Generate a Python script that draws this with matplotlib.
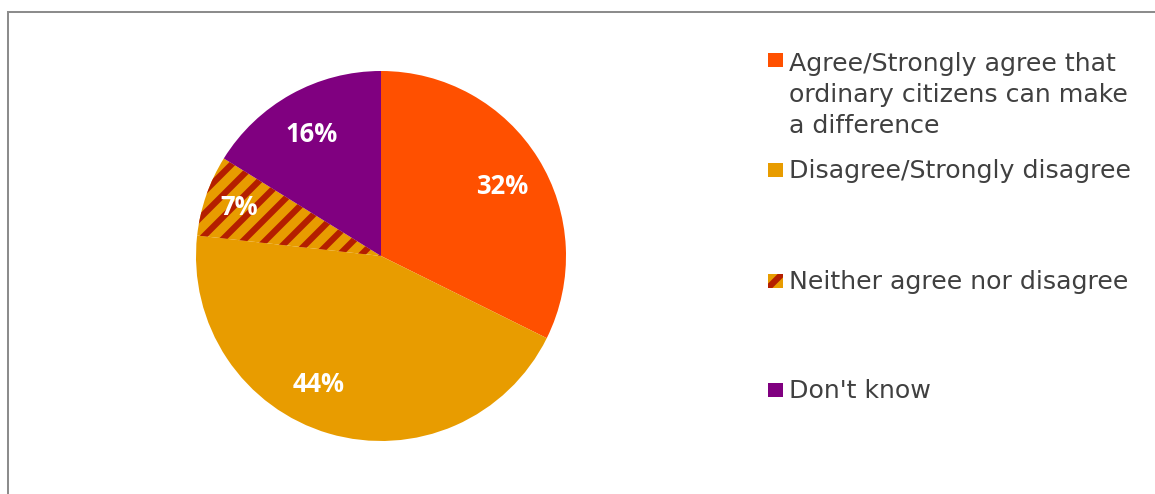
import numpy as np
import matplotlib.pyplot as plt
from matplotlib.patches import Rectangle
from matplotlib.lines import Line2D

labels = [
    "Agree/Strongly agree that\nordinary citizens can make\na difference",
    "Disagree/Strongly disagree",
    "Neither agree nor disagree",
    "Don't know",
]
shares = [32, 44, 7, 16]
colors = ["#FF5000", "#E89C00", "#E89C00", "#800080"]
hatches = [None, None, "//", None]
stripe_color = "#B41E00"
# value label placement: fraction of radius, angle nudge (deg, clockwise)
label_dist = [0.76, 0.755, 0.815, 0.77]
label_turn = [1, 10, 1, 0]

plt.rcParams["font.family"] = ["DejaVu Sans"]
plt.rcParams["hatch.linewidth"] = 3.4

W, H = 1155, 494
dpi = 132
fig = plt.figure(figsize=((W + 0.01) / dpi, (H + 0.01) / dpi), dpi=dpi)

# pie centred at (381, 256) px from top-left, radius 185 px
cx, cy, r = 381, 256, 185
ax = fig.add_axes([(cx - r) / W, (H - cy - r) / H, 2 * r / W, 2 * r / H])
wedges, _ = ax.pie(
    shares, colors=colors, startangle=90, counterclock=False, radius=1,
    wedgeprops=dict(linewidth=0),
)
for w, h, v, d, t in zip(wedges, hatches, shares, label_dist, label_turn):
    if h:
        w.set_hatch(h)
        w.set_edgecolor(stripe_color)
    ang = np.deg2rad((w.theta1 + w.theta2) / 2 - t)
    ax.text(d * np.cos(ang), d * np.sin(ang), f"{v}%", color="white",
            fontsize=14, fontweight="bold", family=["Open Sans", "DejaVu Sans"],
            ha="center", va="center_baseline")
ax.set_xlim(-1, 1)
ax.set_ylim(-1, 1)
ax.set_aspect("equal")

# outer frame (top and left edges visible)
fig.add_artist(Line2D([8 / W, 1], [1 - 12 / H] * 2, color="#8C8C8C", lw=1.1))
fig.add_artist(Line2D([8 / W] * 2, [0, 1 - 12 / H], color="#8C8C8C", lw=1.1))

# legend: one slot of ~110 px per entry, first-line baselines below
baselines = [68, 178, 289, 398]
line_px = 32.5
for lab, c, h, yb in zip(labels, colors, hatches, baselines):
    sq = Rectangle((768 / W, 1 - (yb - 1) / H), 15 / W, 14 / H,
                   transform=fig.transFigure, facecolor=c,
                   edgecolor=stripe_color if h else "none", hatch=h, lw=0)
    fig.add_artist(sq)
    last = yb + lab.count("\n") * line_px
    fig.text(789 / W, 1 - last / H, lab, fontsize=13.8, color="#404040",
             va="baseline", ha="left", linespacing=1.37)

fig.savefig("out.png", dpi=dpi)
